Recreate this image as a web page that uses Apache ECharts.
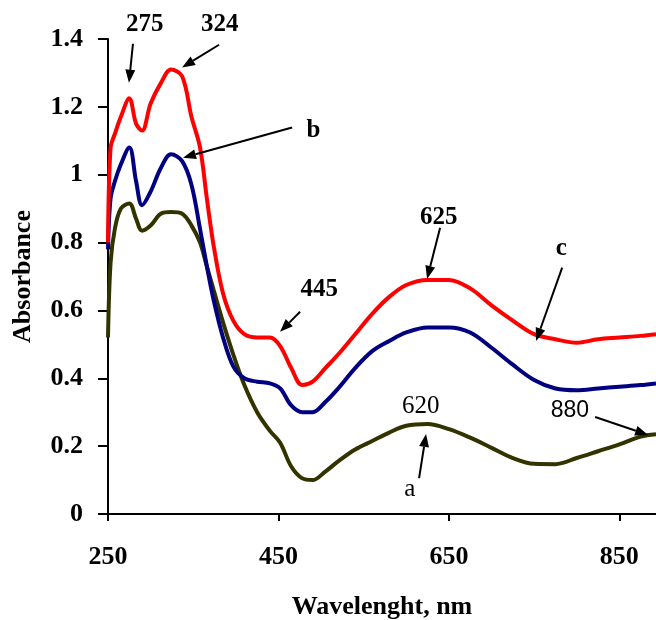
<!DOCTYPE html>
<html>
<head>
<meta charset="utf-8">
<script src="https://cdn.jsdelivr.net/npm/echarts@6/dist/echarts.min.js"></script>
<style>
  html, body { margin: 0; padding: 0; background: #fff; }
  #chart { width: 656px; height: 620px; }
</style>
</head>
<body>
<div id="chart"></div>
<script>
// wavelength grid (nm) shared by the three spectra
const wavelength = [250, 253, 258, 265, 275, 283, 290, 300, 312, 324, 337, 348, 358, 366, 374, 385, 397, 410, 425, 440, 452, 465, 478, 490, 505, 520, 540, 560, 580, 600, 625, 650, 675, 700, 725, 750, 775, 800, 825, 850, 875, 893]
// curve a (olive)
const absA = [0.52, 0.74, 0.84, 0.90, 0.915, 0.87, 0.835, 0.85, 0.885, 0.89, 0.885, 0.85, 0.80, 0.73, 0.66, 0.565, 0.47, 0.38, 0.30, 0.245, 0.21, 0.14, 0.105, 0.10, 0.125, 0.155, 0.19, 0.215, 0.24, 0.26, 0.265, 0.25, 0.225, 0.195, 0.165, 0.148, 0.147, 0.165, 0.185, 0.205, 0.228, 0.235]
// curve b (navy)
const absB = [0.78, 0.93, 0.98, 1.03, 1.08, 0.98, 0.91, 0.95, 1.02, 1.06, 1.04, 0.97, 0.84, 0.73, 0.63, 0.52, 0.435, 0.40, 0.39, 0.385, 0.37, 0.32, 0.30, 0.30, 0.33, 0.37, 0.43, 0.48, 0.51, 0.535, 0.55, 0.55, 0.535, 0.49, 0.44, 0.395, 0.37, 0.365, 0.37, 0.375, 0.38, 0.385]
// curve c (red)
const absC = [0.80, 1.08, 1.12, 1.17, 1.225, 1.15, 1.13, 1.21, 1.27, 1.31, 1.29, 1.17, 1.08, 0.93, 0.79, 0.65, 0.57, 0.53, 0.52, 0.52, 0.495, 0.43, 0.38, 0.39, 0.43, 0.47, 0.53, 0.59, 0.64, 0.675, 0.69, 0.69, 0.665, 0.615, 0.57, 0.53, 0.515, 0.505, 0.515, 0.52, 0.525, 0.53]
const xTicks = [250, 450, 650, 850]

// annotation labels, in data units [wavelength, absorbance]
const noteText = ['275', '324', 'b', '445', '625', 'c', '620', 'a', '880']
const notePos = [[293, 1.443], [381, 1.443], [491, 1.13], [498, 0.661], [638, 0.873], [782, 0.782], [617, 0.316], [604, 0.071], [792, 0.304]]
const noteBold = [true, true, true, true, true, true, false, false, false]
// arrows: tail -> head, data units
const arrowFrom = [[279.3, 1.386], [380.3, 1.383], [466, 1.139], [475.4, 0.596], [639.7, 0.844], [782.9, 0.726], [615, 0.106], [821.6, 0.286]]
const arrowTo = [[274.6, 1.271], [336.9, 1.316], [338, 1.05], [451.9, 0.537], [624.4, 0.693], [752.3, 0.51], [623.2, 0.236], [883.8, 0.233]]

const pairs = vals => wavelength.map((w, i) => [w, vals[i]])
const SERIF = '"Liberation Serif", "DejaVu Serif", serif'

let chart = echarts.init(document.getElementById('chart'))

const lineSeries = (name, vals, color) => ({
  name,
  type: 'line',
  data: pairs(vals),
  smooth: 0.35,
  showSymbol: false,
  lineStyle: { color, width: 4 },
  z: 3
})

chart.setOption({
  animation: false,
  grid: { left: 108, right: 0, top: 39, bottom: 106, containLabel: false, outerBoundsMode: 'none' },
  xAxis: {
    type: 'value',
    min: 250,
    max: 893,
    name: 'Wavelenght, nm',
    nameLocation: 'middle',
    nameGap: 80,
    nameTextStyle: { fontFamily: SERIF, fontWeight: 'bold', fontSize: 26, color: '#000' },
    axisLine: { lineStyle: { color: '#000', width: 2 } },
    axisTick: { customValues: xTicks, length: 7, lineStyle: { color: '#000', width: 2 } },
    axisLabel: { customValues: xTicks, margin: 30, fontFamily: SERIF, fontWeight: 'bold', fontSize: 26, color: '#000' },
    splitLine: { show: false }
  },
  yAxis: {
    type: 'value',
    min: 0,
    max: 1.4,
    interval: 0.2,
    name: 'Absorbance',
    nameLocation: 'middle',
    nameGap: 72,
    nameTextStyle: { fontFamily: SERIF, fontWeight: 'bold', fontSize: 26, color: '#000' },
    axisLine: { show: true, lineStyle: { color: '#000', width: 2 } },
    axisTick: { show: true, length: 10, lineStyle: { color: '#000', width: 2 } },
    axisLabel: { margin: 25, fontFamily: SERIF, fontWeight: 'bold', fontSize: 26, color: '#000' },
    splitLine: { show: false }
  },
  series: [
    lineSeries('a', absA, '#333300'),
    lineSeries('b', absB, '#000080'),
    lineSeries('c', absC, '#ff0000')
  ]
})

// annotations placed through the axes' scales
function drawNotes () {
  const px = p => chart.convertToPixel({ gridIndex: 0 }, p)
  const els = []
  noteText.forEach((t, i) => {
    const [x, y] = px(notePos[i])
    els.push({
      type: 'text', x, y, z: 10,
      style: {
        text: t,
        fill: '#000',
        font: (noteBold[i] ? 'bold ' : '') + (t === '880' ? '23px "Liberation Sans", sans-serif' : '25px ' + SERIF),
        align: 'center',
        verticalAlign: 'middle'
      }
    })
  })
  arrowFrom.forEach((from, i) => {
    const [x1, y1] = px(from)
    const [x2, y2] = px(arrowTo[i])
    const dx = x2 - x1
    const dy = y2 - y1
    const len = Math.sqrt(dx * dx + dy * dy)
    const ux = dx / len
    const uy = dy / len
    const hl = 13
    const hw = 5
    const bx = x2 - ux * hl
    const by = y2 - uy * hl
    els.push({ type: 'line', z: 10, shape: { x1, y1, x2: bx, y2: by }, style: { stroke: '#000', lineWidth: 2 } })
    els.push({
      type: 'polygon', z: 10,
      shape: { points: [[x2, y2], [bx - uy * hw, by + ux * hw], [bx + uy * hw, by - ux * hw]] },
      style: { fill: '#000' }
    })
  })
  chart.setOption({ graphic: els })
}
drawNotes()
window.addEventListener('resize', () => { chart.resize(); drawNotes() })
</script>
</body>
</html>
